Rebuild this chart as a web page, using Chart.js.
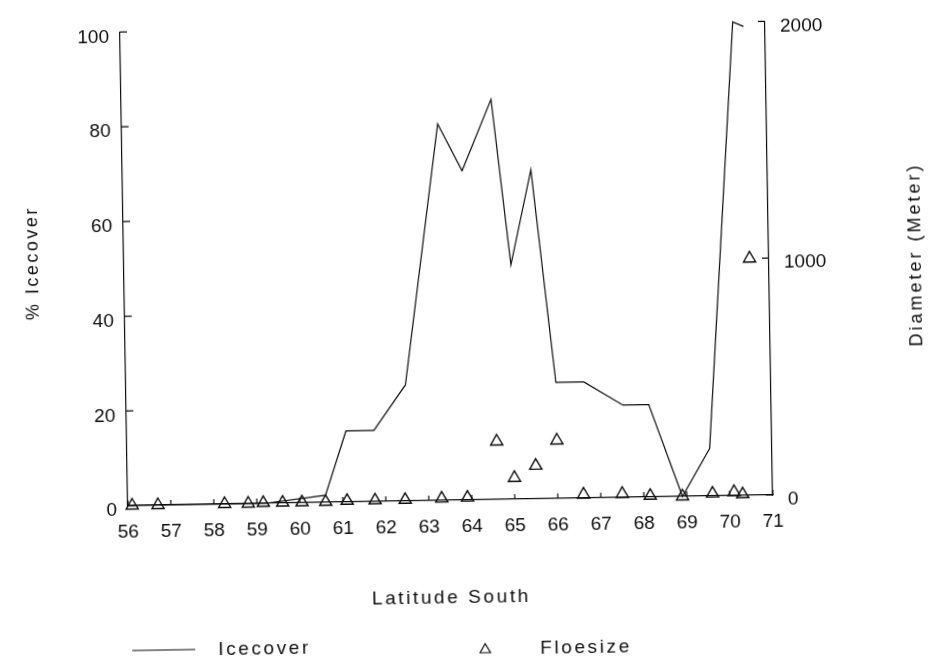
<!DOCTYPE html>
<html><head><meta charset="utf-8">
<script src="https://cdn.jsdelivr.net/npm/chart.js@4/dist/chart.umd.min.js"></script>
<style>
html,body{margin:0;padding:0;background:#fff;overflow:hidden;}
#c{display:block;transform:rotate(-0.95deg);transform-origin:50% 50%;}
</style></head><body>
<canvas id="c" width="929" height="660"></canvas>
<script>
// ---- data ----
const iceLat = [56, 59.2, 60.6, 61.1, 61.75, 62.5, 63.35, 63.9, 64.6, 65.0, 65.5, 66.0, 66.65, 67.55, 68.15, 68.9, 69.55, 70.25, 70.5];
const icePct = [0, 0, 1.5, 15, 15, 24.5, 79.5, 69.5, 84.5, 49.5, 69.5, 24.5, 24.5, 19.5, 19.5, 0, 10, 100, 99];
const floeLat = [56.1, 56.7, 58.25, 58.8, 59.15, 59.6, 60.05, 60.6, 61.1, 61.75, 62.45, 63.3, 63.9, 64.6, 65.0, 65.5, 66.0, 66.6, 67.5, 68.15, 68.9, 69.6, 70.1, 70.3, 70.55];
const floeSize = [0, 0, 0, 0, 2, 2, 2, 2, 5, 5, 5, 8, 10, 245, 90, 140, 245, 15, 15, 5, 0, 10, 15, 5, 1000];
const xTicks = [56,57,58,59,60,61,62,63,64,65,66,67,68,69,70,71];
const leftTicks = [0,20,40,60,80,100];
const rightTicks = [0,1000,2000];
const labelIce = 'Icecover';
const labelFloe = 'Floesize';
const titleX = 'Latitude South';
const titleLeft = '% Icecover';
const titleRight = 'Diameter (Meter)';

const INK = '#0d0d0d';
const FONT = '"Liberation Sans", Arial, sans-serif';

const inwardTicks = {
  id: 'inwardTicks',
  afterDraw(chart) {
    const ctx = chart.ctx;
    const {x, y, y1} = chart.scales;
    const a = chart.chartArea;
    ctx.save();
    ctx.strokeStyle = INK;
    ctx.lineWidth = 1.2;
    ctx.beginPath();
    xTicks.forEach(v => { const p = x.getPixelForValue(v); ctx.moveTo(p, a.bottom); ctx.lineTo(p, a.bottom - 5); });
    leftTicks.forEach(v => { const p = y.getPixelForValue(v); ctx.moveTo(a.left, p); ctx.lineTo(a.left + 7, p); });
    rightTicks.forEach(v => { const p = y1.getPixelForValue(v); ctx.moveTo(a.right, p); ctx.lineTo(a.right - 7, p); });
    ctx.stroke();

    // titles
    ctx.fillStyle = INK;
    ctx.font = '18px ' + FONT;
    ctx.letterSpacing = '2.5px';
    ctx.textAlign = 'center';
    ctx.textBaseline = 'middle';
    ctx.save(); ctx.translate(34, 256); ctx.rotate(-Math.PI/2); ctx.fillText(titleLeft, 0, 0); ctx.restore();
    ctx.letterSpacing = '3px';
    ctx.save(); ctx.translate(917, 262); ctx.rotate(-Math.PI/2); ctx.fillText(titleRight, 0, 0); ctx.restore();
    ctx.font = '19px ' + FONT;
    ctx.letterSpacing = '2.6px';
    ctx.fillText(titleX, 447, 598);

    // legend
    const ds = chart.data.datasets;
    ctx.textAlign = 'left';
    ctx.beginPath();
    ctx.lineWidth = 1.1;
    ctx.moveTo(127, 645); ctx.lineTo(190, 645);
    ctx.strokeStyle = ds[0].borderColor;
    ctx.stroke();
    ctx.fillText(ds[0].label, 213, 646);
    ctx.fillStyle = 'rgba(255,255,255,0)';
    ctx.strokeStyle = ds[1].borderColor;
    ctx.lineWidth = 1.2;
    Chart.helpers.drawPoint(ctx, {pointStyle: 'triangle', radius: 6, borderWidth: 1.2, rotation: 0}, 480, 650);
    ctx.fillStyle = INK;
    ctx.fillText(ds[1].label, 535, 650);
    ctx.restore();
  }
};

new Chart(document.getElementById('c'), {
  data: {
    datasets: [
      {
        type: 'line', label: labelIce, yAxisID: 'y',
        data: iceLat.map((v, i) => ({x: v, y: icePct[i]})),
        borderColor: INK, borderWidth: 1.2, pointRadius: 0, tension: 0, fill: false, clip: false
      },
      {
        type: 'scatter', label: labelFloe, yAxisID: 'y1',
        data: floeLat.map((v, i) => ({x: v, y: floeSize[i]})),
        pointStyle: 'triangle', pointRadius: 7, pointBorderWidth: 1.4,
        borderColor: INK, backgroundColor: 'rgba(255,255,255,0)', clip: false
      }
    ]
  },
  options: {
    responsive: false, animation: false, devicePixelRatio: 1,
    layout: {padding: {top: 25, left: 0, right: 0, bottom: 0}},
    plugins: {legend: {display: false}, tooltip: {enabled: false}},
    scales: {
      x: {
        type: 'linear', position: 'bottom', min: 56, max: 71,
        afterBuildTicks: s => { s.ticks = xTicks.map(v => ({value: v})); },
        afterFit: s => { s.height = 160; },
        grid: {drawOnChartArea: false, drawTicks: false},
        border: {display: true, color: INK, width: 1.2},
        ticks: {color: INK, font: {family: FONT, size: 19}, padding: 15, maxRotation: 0, autoSkip: false}
      },
      y: {
        type: 'linear', position: 'left', min: 0, max: 100,
        afterBuildTicks: s => { s.ticks = leftTicks.map(v => ({value: v})); },
        afterFit: s => { s.width = 125; },
        grid: {drawOnChartArea: false, drawTicks: false},
        border: {display: true, color: INK, width: 1.2},
        ticks: {color: INK, font: {family: FONT, size: 19}, padding: 11, labelOffset: 5}
      },
      y1: {
        type: 'linear', position: 'right', min: 0, max: 2000,
        afterBuildTicks: s => { s.ticks = rightTicks.map(v => ({value: v})); },
        afterFit: s => { s.width = 159; },
        grid: {drawOnChartArea: false, drawTicks: false},
        border: {display: true, color: INK, width: 1.2},
        ticks: {color: INK, font: {family: FONT, size: 19}, padding: 15, labelOffset: 5, callback: v => String(v)}
      }
    }
  },
  plugins: [inwardTicks]
});
</script>
</body></html>
